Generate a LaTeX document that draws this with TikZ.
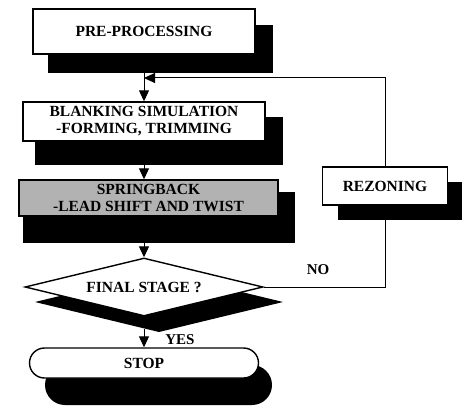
\documentclass[tikz,border=0pt]{standalone}
\usepackage{fontspec}
\setmainfont{Liberation Serif}
\usetikzlibrary{shapes.geometric,arrows.meta}
\begin{document}
\begin{tikzpicture}[x=1pt,y=-1pt,
 box/.style={draw=black,line width=1.4pt,fill=white,inner sep=0pt,align=center,font=\fontsize{15.5}{17}\selectfont\bfseries},
 conn/.style={draw=black,line width=1pt},
 arr/.style={conn,-{Triangle[length=11pt,width=10pt]}},
 lbl/.style={font=\fontsize{15}{17}\selectfont\bfseries,inner sep=0pt}]
\useasboundingbox (0,0) rectangle (462,409);
% shadows
\fill (48,25) rectangle (273,73);
\fill (35,117) rectangle (283,165);
\fill (23,192) rectangle (295,243);
\fill (35,302) -- (159,272) -- (283,302) -- (159,332) -- cycle;
\fill[rounded corners=20pt] (45,365) rectangle (272,405);
\fill (338,182) rectangle (462,220);
% nodes
\node[box,minimum width=222pt,minimum height=45pt] (pre) at (144,31.5) {PRE-PROCESSING};
\node[box,minimum width=242pt,minimum height=39pt] (blank) at (144,121.5) {BLANKING SIMULATION\\-FORMING, TRIMMING};
\node[box,fill=black!30,minimum width=259pt,minimum height=36pt] (spring) at (148.5,198) {SPRINGBACK\\-LEAD SHIFT AND TWIST};
\node[box,diamond,aspect=4,minimum width=238pt,minimum height=58pt] (final) at (144,287) {FINAL STAGE ?};
\node[box,rounded corners=15pt,minimum width=229pt,minimum height=30pt] (stop) at (144,363) {STOP};
\node[box,minimum width=125pt,minimum height=38pt] (rezone) at (385,186) {REZONING};
\node[lbl] (no) at (318,270) {NO};
\node[lbl] (yes) at (180,340) {YES};
% coordinates
\coordinate (preS) at (144,73);
\coordinate (blankS) at (144,165);
\coordinate (springS) at (144,243);
\coordinate (finalS) at (144,329);
\coordinate (fbIn) at (144,78);
\coordinate (noCorner) at (385,287);
\coordinate (rzS) at (385,220);
% connectors
\draw[arr] (preS) -- (blank.north);
\draw[arr] (blankS) -- (spring.north -| blankS);
\draw[arr] (springS) -- (final.north);
\draw[arr] (finalS) -- (stop.north);
\draw[conn] (final.east) -- (noCorner) -- (rzS);
\draw[arr] (rezone.north) |- (fbIn);
\end{tikzpicture}
\end{document}
